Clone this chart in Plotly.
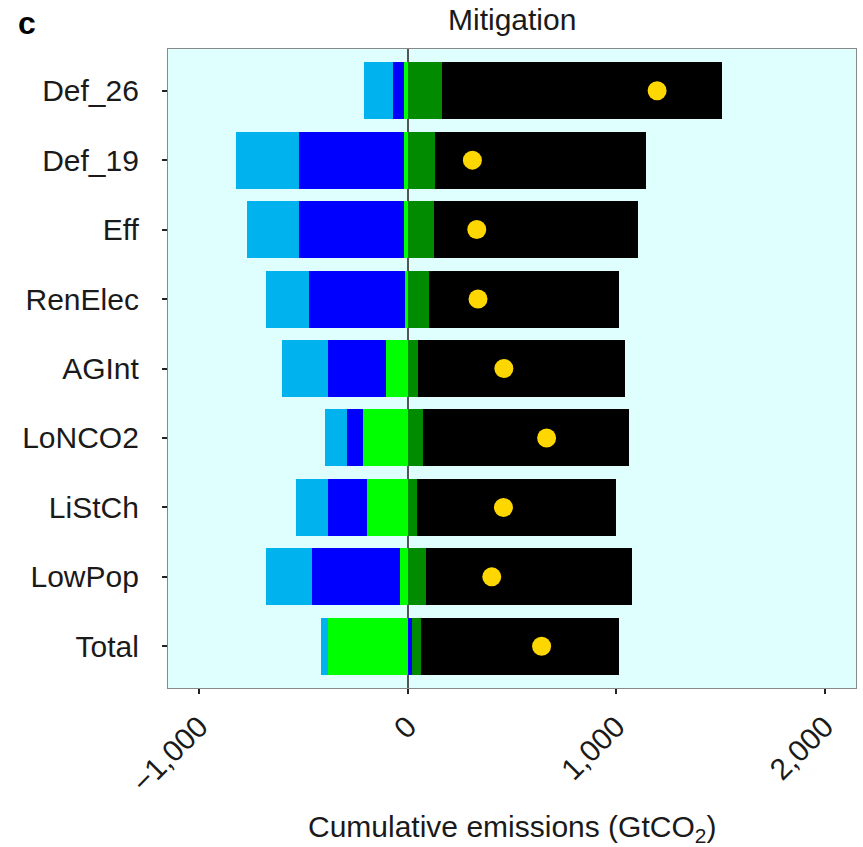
import plotly.graph_objects as go

categories = ["Def_26", "Def_19", "Eff", "RenElec", "AGInt", "LoNCO2", "LiStCh", "LowPop", "Total"]

# stacked components (GtCO2); negatives stack leftwards from zero, positives rightwards
bright_green = [-19, -19, -19, -11, -103, -217, -194, -35, -383]
blue = [-53, -501, -501, -464, -280, -75, -189, -425, 19]
dark_green = [164, 132, 125, 103, 48, 72, 42, 87, 45]
light_blue = [-136, -303, -250, -204, -220, -106, -151, -219, -31]
black = [1342, 1011, 979, 910, 995, 987, 956, 987, 949]
net_points = [1196, 310, 331, 337, 461, 666, 459, 403, 642]

tick_vals = [-1000, 0, 1000, 2000]
tick_text = ["\u22121,000", "0", "1,000", "2,000"]

series = [
    ("bright_green", bright_green, "#00FF00"),
    ("blue", blue, "#0000FF"),
    ("dark_green", dark_green, "#008B00"),
    ("light_blue", light_blue, "#00B2EE"),
    ("black", black, "#000000"),
]

fig = go.Figure()
for name, vals, col in series:
    fig.add_trace(go.Bar(
        y=categories, x=vals, orientation="h", name=name,
        marker=dict(color=col, line=dict(width=0)), width=0.82,
    ))

fig.add_trace(go.Scatter(
    y=categories, x=net_points, mode="markers",
    marker=dict(color="#FFD700", size=19, line=dict(width=0)),
))

font_family = "Liberation Sans, Arial, sans-serif"

fig.update_layout(
    width=863, height=847,
    margin=dict(l=168, r=7, t=49, b=159),
    barmode="relative",
    bargap=0,
    showlegend=False,
    paper_bgcolor="white",
    plot_bgcolor="#DFFFFF",
    font=dict(family=font_family, size=30, color="#1a1a1a"),
)

fig.update_xaxes(
    range=[-1150, 2150],
    tickvals=tick_vals, ticktext=tick_text,
    tickangle=-45,
    ticks="outside", ticklen=5, tickwidth=2, tickcolor="#222",
    ticklabelstandoff=3,
    showgrid=False,
    zeroline=True, zerolinecolor="#555", zerolinewidth=1.5,
    showline=True, linecolor="#888", linewidth=1.2, mirror=True,
    layer="above traces",
    tickfont=dict(size=30, color="#1a1a1a"),
)

fig.update_yaxes(
    categoryorder="array", categoryarray=categories[::-1],
    range=[-0.6, 8.6],
    ticks="outside", ticklen=5, tickwidth=2, tickcolor="#222",
    ticklabelstandoff=17,
    showgrid=False,
    showline=True, linecolor="#888", linewidth=1.2, mirror=True,
    layer="above traces",
    tickfont=dict(size=30, color="#1a1a1a"),
)

fig.add_annotation(
    text="Mitigation", xref="paper", yref="paper",
    x=0.5, y=1.0, yshift=30, xanchor="center", yanchor="middle",
    showarrow=False, font=dict(size=30, color="#1a1a1a"),
)
fig.add_annotation(
    text="<b>c</b>", xref="paper", yref="paper",
    x=0, xshift=-141, y=1.0, yshift=26, xanchor="center", yanchor="middle",
    showarrow=False, font=dict(size=32, color="#000"),
)
fig.add_annotation(
    text="Cumulative emissions (GtCO<sub>2</sub>)", xref="paper", yref="paper",
    x=0.5, y=0, yshift=-140, xanchor="center", yanchor="middle",
    showarrow=False, font=dict(size=30, color="#1a1a1a"),
)

fig.write_html("out.html")
